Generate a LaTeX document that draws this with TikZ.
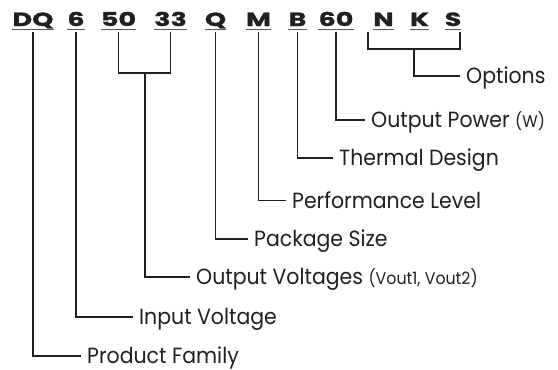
\documentclass[tikz,border=0pt]{standalone}
\usepackage{fontspec}
\setmainfont{Poppins}
\newfontfamily\labfont[FakeStretch=0.93]{Poppins}
\newfontfamily\codefont[FakeStretch=1.42,FakeBold=1.2]{Poppins}
\usetikzlibrary{calc}
\definecolor{ink}{HTML}{231F20}
\definecolor{uline}{HTML}{58595B}
\begin{document}
\begin{tikzpicture}[x=1pt,y=-1pt,
  code/.style={anchor=base,inner xsep=0pt,inner ysep=0pt,text height=14pt,text depth=5.7pt,
    font=\codefont\fontsize{19}{19}\selectfont\bfseries,text=ink},
  lab/.style={anchor=west,inner xsep=6pt,inner ysep=0pt,text height=15.4pt,text depth=0pt,
    font=\labfont\fontsize{22}{22}\selectfont,text=ink},
  conn/.style={draw=ink,line width=1.7pt},
  ul/.style={draw=uline,line width=0.9pt}]
\useasboundingbox (0,0) rectangle (558,370);
% codes
\node[code] (cDQ) at (33,26) {DQ};
\node[code] (c6) at (76,26) {6};
\node[code] (c50) at (118.5,26) {50};
\node[code] (c33) at (170.5,26) {33};
\node[code] (cQ) at (215.5,26) {Q};
\node[code] (cM) at (258.5,26) {M};
\node[code] (cB) at (297.5,26) {B};
\node[code] (c60) at (336,26) {60};
\node[code] (cN) at (383.5,26) {N};
\node[code] (cK) at (419.5,26) {K};
\node[code] (cS) at (453,26) {S};
\foreach \n in {cDQ,c6,c50,c33,cQ,cM,cB,c60,cN,cK,cS}
  \draw[ul] ([yshift=2.4pt]\n.south west) -- ([yshift=2.4pt]\n.south east);
% labels
\newcommand\sm[1]{{\fontsize{17}{17}\selectfont #1}}
\node[lab] (lOpt) at (460,76) {Options};
\node[lab] (lPow) at (365,120) {Output Power \sm{(W)}};
\node[lab] (lThe) at (333,158) {Thermal Design};
\node[lab] (lPer) at (286,200.5) {Performance Level};
\node[lab] (lPac) at (248,239) {Package Size};
\node[lab] (lOV) at (190,277) {Output Voltages \sm{(Vout1, Vout2)}};
\node[lab] (lIn) at (133,317) {Input Voltage};
\node[lab] (lPF) at (81,356) {Product Family};
% bracket coordinates
\coordinate (vb) at (145,73);
\coordinate (tN) at (368,31.7);
\coordinate (tS) at (460,31.7);
\coordinate (ob) at (414,49);
% connectors
\draw[conn] (cDQ.south) |- (lPF.west);
\draw[conn] (c6.south) |- (lIn.west);
\draw[conn] (c50.south) |- (vb) -| (c33.south);
\draw[conn] (vb) |- (lOV.west);
\draw[conn] (cQ.south) |- (lPac.west);
\draw[conn] (cM.south) |- (lPer.west);
\draw[conn] (cB.south) |- (lThe.west);
\draw[conn] (c60.south) |- (lPow.west);
\draw[conn] (tN) |- (ob) -| (tS);
\draw[conn] (ob) |- (lOpt.west);
\end{tikzpicture}
\end{document}
